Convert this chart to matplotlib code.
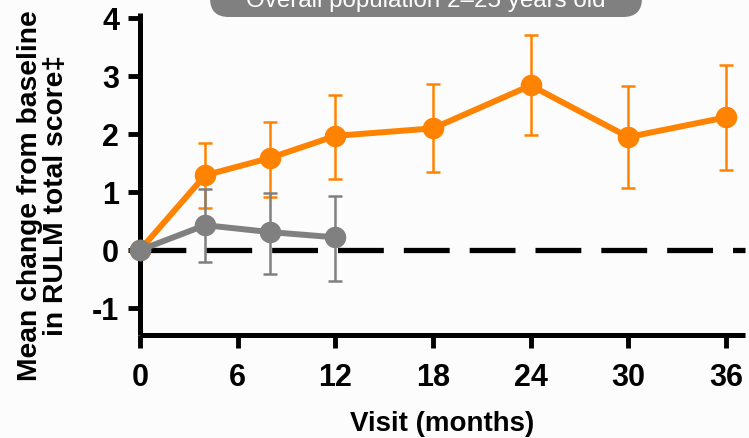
import matplotlib.pyplot as plt
from matplotlib.patches import FancyBboxPatch

# data
visits_a = [0, 4, 8, 12, 18, 24, 30, 36]
mean_a = [0, 1.29, 1.59, 1.97, 2.10, 2.84, 1.95, 2.29]
upper_a = [0, 1.84, 2.21, 2.67, 2.86, 3.71, 2.83, 3.20]
lower_a = [0, 0.72, 0.92, 1.22, 1.35, 1.98, 1.07, 1.39]

visits_b = [0, 4, 8, 12]
mean_b = [0, 0.43, 0.31, 0.22]
upper_b = [0, 1.05, 0.99, 0.93]
lower_b = [0, -0.20, -0.41, -0.53]

xticks = [0, 6, 12, 18, 24, 30, 36]
yticks = [-1, 0, 1, 2, 3, 4]
title = "Overall population 2\u201325 years old"

orange = '#ff8300'
grey = '#808080'

plt.rcParams['font.family'] = ['Liberation Sans', 'DejaVu Sans']
plt.rcParams['lines.scale_dashes'] = False
plt.rcParams['axes.unicode_minus'] = False

fig = plt.figure(figsize=(7.49, 4.38), dpi=100, facecolor='#fcfcfc')
ax = fig.add_axes([140/749, 103/438, 605/749, 322/438])
ax.set_facecolor('#fcfcfc')

ax.set_xlim(0, 37.17)
ax.set_ylim(-1.465, 4.09)

# zero reference line
zl, = ax.plot([0, 37.17], [0, 0], color='black', lw=3.8, zorder=1, clip_on=False)
zl.set_dashes((33, 14.4))

def series(x, m, lo, hi, c, z):
    err = [[mi - l for mi, l in zip(m, lo)], [h - mi for mi, h in zip(m, hi)]]
    ax.errorbar(x, m, yerr=err, fmt='none', ecolor=c, elinewidth=1.8,
                capsize=5, capthick=1.8, zorder=z, clip_on=False)
    ax.plot(x, m, color=c, lw=4.3, marker='o', markersize=14.5,
            zorder=z + 1, clip_on=False)

series(visits_a, mean_a, lower_a, upper_a, orange, 3)
series(visits_b, mean_b, lower_b, upper_b, grey, 5)

for s in ['top', 'right']:
    ax.spines[s].set_visible(False)
for s in ['left', 'bottom']:
    ax.spines[s].set_linewidth(3.6)
    ax.spines[s].set_capstyle('butt')

ax.set_xticks(xticks)
ax.set_yticks(yticks)
ax.tick_params(axis='both', length=9, width=3.5, labelsize=22)
ax.tick_params(axis='x', pad=11)
ax.tick_params(axis='y', pad=6)
for lab in ax.get_xticklabels() + ax.get_yticklabels():
    lab.set_fontweight('bold')

ax.set_xlabel('Visit (months)', fontsize=20, fontweight='bold', labelpad=13)
fig.text(0.057, 0.553, 'Mean change from baseline\nin RULM total score\u2021',
         rotation=90, ha='center', va='center', multialignment='center',
         fontsize=20.3, fontweight='bold', linespacing=1.0)

# grey title box, cut off at the top of the image
box = FancyBboxPatch((210/749, 1 - 17/438), 432/749, 0.1,
                     boxstyle='round,pad=0,rounding_size=0.025',
                     transform=fig.transFigure, facecolor=grey,
                     edgecolor='none', mutation_aspect=749/438)
fig.patches.append(box)
fig.text(426/749, 1 - 7/438, title, ha='center', va='baseline',
         color='white', fontsize=17.4)

fig.savefig('out.png', dpi=100, facecolor=fig.get_facecolor())
